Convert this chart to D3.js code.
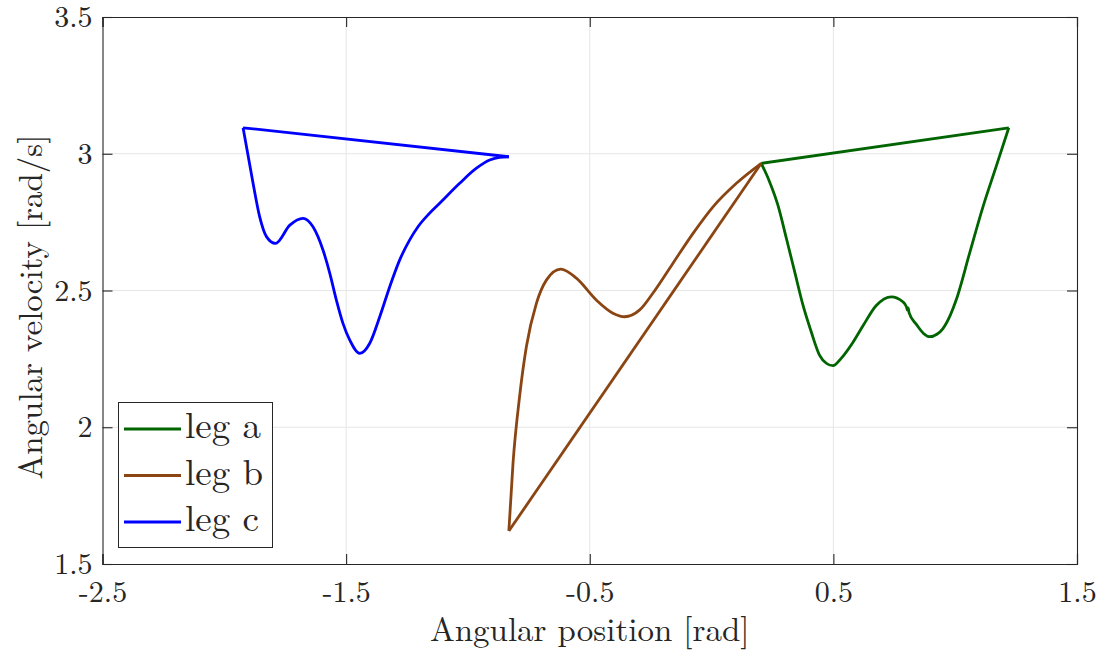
<!DOCTYPE html>
<html lang="en">
<head>
<meta charset="UTF-8">
<script src="https://cdn.jsdelivr.net/npm/d3@7"></script>
<style>
  body { margin: 0; background: #fff; }
  text { font-family: "Latin Modern Roman", "CMU Serif", "Liberation Serif", serif; fill: #262626; }
</style>
</head>
<body>
<svg width="1102" height="653"></svg>
<script>
  // leg a (green) curve, ends joined by a straight chord
  const legA = [[0.204,2.965],[0.238,2.898],[0.272,2.813],[0.307,2.691],[0.341,2.569],[0.375,2.447],
    [0.409,2.349],[0.443,2.264],[0.471,2.234],[0.498,2.225],[0.532,2.252],[0.580,2.310],[0.621,2.370],
    [0.676,2.445],[0.738,2.477],[0.785,2.459],[0.800,2.440],[0.804,2.428],[0.807,2.436],[0.811,2.418],
    [0.840,2.377],[0.870,2.343],[0.895,2.331],[0.925,2.340],[0.949,2.360],[0.980,2.410],[1.004,2.465],
    [1.059,2.636],[1.114,2.806],[1.168,2.953],[1.220,3.095]];
  // leg b (brown)
  const legB = [[-0.832,1.621],[-0.815,1.868],[-0.788,2.112],[-0.760,2.295],[-0.719,2.453],[-0.678,2.538],
    [-0.619,2.578],[-0.555,2.545],[-0.473,2.465],[-0.405,2.417],[-0.357,2.404],[-0.295,2.429],
    [-0.241,2.490],[-0.159,2.599],[-0.076,2.709],[0.006,2.806],[0.102,2.892],[0.204,2.965]];
  // leg c (blue)
  const legC = [[-1.923,3.095],[-1.882,2.892],[-1.855,2.770],[-1.827,2.697],[-1.790,2.672],[-1.731,2.739],
    [-1.677,2.764],[-1.636,2.733],[-1.595,2.648],[-1.567,2.563],[-1.540,2.465],[-1.513,2.380],
    [-1.485,2.319],[-1.444,2.270],[-1.403,2.307],[-1.362,2.404],[-1.321,2.514],[-1.280,2.612],
    [-1.239,2.685],[-1.205,2.733],[-1.160,2.780],[-1.116,2.819],[-1.034,2.892],[-0.965,2.947],
    [-0.911,2.977],[-0.870,2.987],[-0.832,2.989]];

  const seriesNames = ['leg a', 'leg b', 'leg c'];
  const seriesColors = ['#006400', '#8b4513', '#0000ff'];
  const seriesData = [legA, legB, legC];
  const xTicks = [-2.5, -1.5, -0.5, 0.5, 1.5];
  const yTicks = [1.5, 2, 2.5, 3, 3.5];

  const svg = d3.select('svg');
  const m = {left: 102.5, right: 1077, top: 17, bottom: 564};
  const x = d3.scaleLinear().domain([-2.5, 1.5]).range([m.left, m.right]);
  const y = d3.scaleLinear().domain([1.5, 3.5]).range([m.bottom, m.top]);
  const font = '"Latin Modern Roman", "CMU Serif", "Liberation Serif", serif';

  // grid
  const grid = svg.append('g').attr('stroke', '#e6e6e6').attr('stroke-width', 1);
  grid.selectAll('.gx').data(xTicks.slice(1, -1)).join('line')
    .attr('x1', d => x(d)).attr('x2', d => x(d)).attr('y1', m.top).attr('y2', m.bottom);
  grid.selectAll('.gy').data(yTicks.slice(1, -1)).join('line')
    .attr('y1', d => y(d)).attr('y2', d => y(d)).attr('x1', m.left).attr('x2', m.right);

  // lines
  const curve = d3.line().x(d => x(d[0])).y(d => y(d[1])).curve(d3.curveMonotoneX);
  const chord = d3.line().x(d => x(d[0])).y(d => y(d[1]));
  const plot = svg.append('g');
  seriesData.forEach((pts, i) => {
    plot.append('path').attr('d', chord([pts[0], pts[pts.length - 1]]))
      .attr('fill', 'none').attr('stroke', seriesColors[i]).attr('stroke-width', 2.8);
    plot.append('path').attr('d', curve(pts))
      .attr('fill', 'none').attr('stroke', seriesColors[i]).attr('stroke-width', 2.8)
      .attr('stroke-linejoin', 'round');
  });

  // axes (box style, ticks inside on all sides)
  const fmt = d => String(d);
  const tl = 10;
  svg.append('g').attr('transform', `translate(0,${m.bottom})`)
    .call(d3.axisBottom(x).tickValues(xTicks).tickSize(-tl).tickPadding(17).tickFormat(fmt));
  svg.append('g').attr('transform', `translate(0,${m.top})`)
    .call(d3.axisTop(x).tickValues(xTicks).tickSize(-tl).tickFormat(''));
  svg.append('g').attr('transform', `translate(${m.left},0)`)
    .call(d3.axisLeft(y).tickValues(yTicks).tickSize(-tl).tickPadding(10).tickFormat(fmt));
  svg.append('g').attr('transform', `translate(${m.right},0)`)
    .call(d3.axisRight(y).tickValues(yTicks).tickSize(-tl).tickFormat(''));
  svg.selectAll('.domain, .tick line').attr('stroke', '#262626').attr('stroke-width', 1.1);
  svg.selectAll('.tick text').attr('font-size', 30).attr('fill', '#262626').style('font-family', font);

  // axis labels
  svg.append('text').attr('x', (m.left + m.right) / 2).attr('y', 641)
    .attr('text-anchor', 'middle').attr('font-size', 33).text('Angular position [rad]');
  svg.append('text').attr('transform', `translate(42,307) rotate(-90)`)
    .attr('text-anchor', 'middle').attr('font-size', 33).text('Angular velocity [rad/s]');

  // legend
  const lg = svg.append('g');
  lg.append('rect').attr('x', 118.5).attr('y', 402.5).attr('width', 154).attr('height', 145)
    .attr('fill', '#fff').attr('stroke', '#262626').attr('stroke-width', 1);
  seriesNames.forEach((name, i) => {
    const cy = 429 + i * 46.5;
    lg.append('line').attr('x1', 124).attr('x2', 181).attr('y1', cy).attr('y2', cy)
      .attr('stroke', seriesColors[i]).attr('stroke-width', 2.8);
    lg.append('text').attr('x', 185).attr('y', cy + 9).attr('font-size', 37).text(name);
  });
</script>
</body>
</html>
